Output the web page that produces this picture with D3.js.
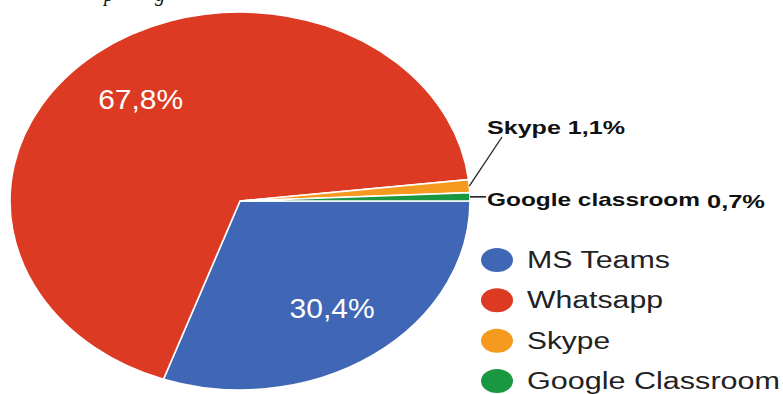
<!DOCTYPE html>
<html>
<head>
<meta charset="utf-8">
<script src="https://cdn.jsdelivr.net/npm/d3@7"></script>
<style>
  body { margin: 0; background: #fff; }
  svg { display: block; font-family: "Liberation Sans", Arial, sans-serif; }
</style>
</head>
<body>
<svg id="pie" width="783" height="394"></svg>
<script>
// data
let apps = ['MS Teams', 'Whatsapp', 'Skype', 'Google Classroom'];
let shares = [30.4, 67.8, 1.1, 0.7];
let shareLabels = ['30,4%', '67,8%', '1,1%', '0,7%'];
let colors = ['#3f67b5', '#dc3a22', '#f5991f', '#1a9741'];

let width = 783, height = 394;
let cx = 240, cy = 201;
let radius = 189;
let stretch = 230 / 189; // picture is wider than tall

let svg = d3.select('#pie');

let color = d3.scaleOrdinal().domain(apps).range(colors);

let data = apps.map((a, i) => ({ app: a, value: shares[i], label: shareLabels[i] }));

let pie = d3.pie()
  .sort(null)
  .value(d => d.value)
  .startAngle(Math.PI / 2)
  .endAngle(Math.PI / 2 + 2 * Math.PI);

let arc = d3.arc().innerRadius(0).outerRadius(radius);
let labelArc = d3.arc().innerRadius(131).outerRadius(131);
let edgeArc = d3.arc().innerRadius(radius).outerRadius(radius);

let arcs = pie(data);

// cut-off caption at the very top (only the descenders show)
svg.append('text')
  .attr('x', 104).attr('y', 1)
  .style('font-family', '"Liberation Serif", serif')
  .style('font-style', 'italic')
  .style('font-size', '20px')
  .attr('fill', '#111')
  .text('p');
svg.append('text')
  .attr('x', 155).attr('y', 1)
  .style('font-family', '"Liberation Serif", serif')
  .style('font-style', 'italic')
  .style('font-size', '20px')
  .attr('fill', '#111')
  .text('g');

let pieGroup = svg.append('g')
  .attr('transform', `translate(${cx},${cy}) scale(${stretch},1)`);

pieGroup.selectAll('path')
  .data(arcs)
  .enter()
  .append('path')
  .attr('d', arc)
  .attr('fill', d => color(d.data.app))
  .attr('stroke', '#fff')
  .attr('stroke-width', 1.6)
  .attr('vector-effect', 'non-scaling-stroke');

// inner labels for the big slices
arcs.filter(d => d.data.value > 10).forEach(d => {
  let c = labelArc.centroid(d);
  svg.append('text')
    .attr('x', cx + c[0] * stretch)
    .attr('y', cy + c[1] + 10)
    .attr('text-anchor', 'middle')
    .attr('fill', '#fff')
    .style('font-size', '28px')
    .attr('textLength', 85)
    .attr('lengthAdjust', 'spacingAndGlyphs')
    .text(d.data.label);
});

// outside labels for the small slices
let skype = arcs[2], gc = arcs[3];
let sp = edgeArc.centroid(skype);
let gp = edgeArc.centroid(gc);

svg.append('line')
  .attr('x1', cx + sp[0] * stretch).attr('y1', cy + sp[1])
  .attr('x2', 502).attr('y2', 137)
  .attr('stroke', '#222').attr('stroke-width', 1.3);

svg.append('line')
  .attr('x1', cx + gp[0] * stretch).attr('y1', cy + gp[1])
  .attr('x2', 486).attr('y2', cy + gp[1])
  .attr('stroke', '#222').attr('stroke-width', 1.6);

svg.append('text')
  .attr('x', 487).attr('y', 134)
  .attr('fill', '#111')
  .style('font-size', '19px').style('font-weight', 'bold')
  .attr('textLength', 138)
  .attr('lengthAdjust', 'spacingAndGlyphs')
  .text('Skype ' + skype.data.label);

svg.append('text')
  .attr('x', 487).attr('y', 206)
  .attr('fill', '#111')
  .style('font-size', '19px').style('font-weight', 'bold')
  .attr('textLength', 213)
  .attr('lengthAdjust', 'spacingAndGlyphs')
  .text('Google classroom');

svg.append('text')
  .attr('x', 707).attr('y', 208)
  .attr('fill', '#111')
  .style('font-size', '19px').style('font-weight', 'bold')
  .attr('textLength', 58)
  .attr('lengthAdjust', 'spacingAndGlyphs')
  .text(gc.data.label);

// legend
let legendY = d3.scalePoint().domain(apps).range([260, 381]);
let legendWidths = [143, 136, 83, 253];

let legend = svg.append('g').attr('class', 'legend');

legend.selectAll('ellipse')
  .data(apps)
  .enter()
  .append('ellipse')
  .attr('cx', 497)
  .attr('cy', d => legendY(d))
  .attr('rx', 16)
  .attr('ry', 12)
  .attr('fill', d => color(d));

legend.selectAll('text')
  .data(apps)
  .enter()
  .append('text')
  .attr('x', 527)
  .attr('y', d => legendY(d) + 8)
  .attr('fill', '#222')
  .style('font-size', '23px')
  .attr('textLength', (d, i) => legendWidths[i])
  .attr('lengthAdjust', 'spacingAndGlyphs')
  .text(d => d);
</script>
</body>
</html>
